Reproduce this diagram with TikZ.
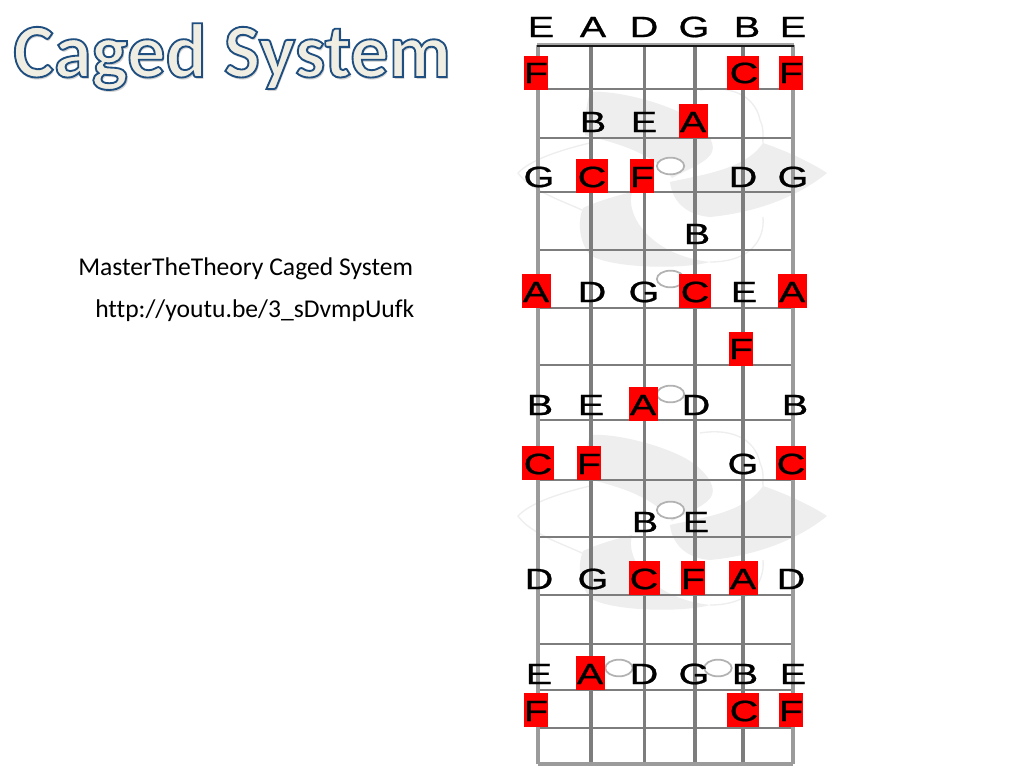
\documentclass[tikz,border=0pt]{standalone}
\usepackage{fontspec}
\setmainfont[Ligatures=NoCommon]{Carlito}
\newfontfamily\notefont{Liberation Sans}
\usetikzlibrary{shapes.geometric}
\definecolor{notered}{RGB}{255,0,0}
\definecolor{fretgray}{RGB}{125,125,125}
\definecolor{edgegray}{RGB}{155,155,155}
\definecolor{wmgray}{RGB}{238,238,238}
\tikzset{note/.style={inner sep=0pt,font=\notefont\fontsize{22}{22}\selectfont,text=black,anchor=center,xscale=1.35,transform shape},
         hit/.style={fill=notered,inner sep=0pt},
         fret/.style={draw=fretgray,line width=1.7pt},
         gstring/.style={draw=fretgray,line width=2.4pt},
         edgestring/.style={draw=edgegray,line width=2.6pt},
         opendot/.style={draw=black!30,line width=1.3pt,fill=white,ellipse,minimum width=20.5pt,minimum height=12.5pt,inner sep=0pt},
         info/.style={inner sep=0pt,font=\fontsize{19.2}{22}\selectfont,anchor=base west}
}
\newcommand{\outlined}[1]{\special{pdf:code q 2 Tr 1.4 w 0.12 0.31 0.5 RG 0.94 0.93 0.89 rg}#1\special{pdf:code 0 Tr Q}}
\newcommand{\notetxt}[1]{\special{pdf:code q 2 Tr 0.15 w 0 0 0 RG 0 0 0 rg}#1\special{pdf:code 0 Tr Q}}
\begin{document}
\begin{tikzpicture}[x=0.75pt,y=-0.75pt]
\useasboundingbox (0,0) rectangle (1024,768);
\fill[white] (0,0) rectangle (1024,768);

% watermarks
\foreach \dy in {0,343} {
\begin{scope}[yshift=-\dy*0.75pt]
\fill[wmgray] (590,92) .. controls (620,90) and (670,105) .. (690,118) .. controls (705,128) and (716,142) .. (712,152)
  .. controls (708,162) and (690,168) .. (672,178) .. controls (650,150) and (610,142) .. (585,135) .. controls (585,120) and (586,105) .. (590,92) -- cycle;
\fill[wmgray] (670,182) .. controls (700,175) and (745,170) .. (763,143) .. controls (790,152) and (815,165) .. (827,173)
  .. controls (800,195) and (760,212) .. (710,217) .. controls (685,215) and (672,200) .. (670,182) -- cycle;
\fill[wmgray] (583,208) .. controls (600,200) and (620,195) .. (632,192) .. controls (625,215) and (650,255) .. (710,262)
  .. controls (680,270) and (610,268) .. (590,255) .. controls (578,240) and (578,220) .. (583,208) -- cycle;
\draw[wmgray,line width=1pt] (590,143) .. controls (560,150) and (530,160) .. (518,173) .. controls (530,190) and (560,200) .. (582,210);
\draw[wmgray,line width=1pt] (700,90) .. controls (730,85) and (755,95) .. (760,120) .. controls (765,130) and (762,140) .. (763,143);
\draw[wmgray,line width=1pt] (763,217) .. controls (765,240) and (750,262) .. (710,262);
\end{scope}
}

% frets and strings
\foreach \fy in {89,138,192,250,308,365,420,480,537,595,644,690,728} {
  \draw[fret] (538,\fy) -- (793,\fy);
}
\foreach \sx in {591,644.5,695,743} {
  \draw[gstring] (\sx,45) -- (\sx,764);
}
\foreach \sx in {538,793} {
  \draw[edgestring] (\sx,45) -- (\sx,764);
}
\draw[edgestring] (538,764) -- (793,764);
\draw[black!35,line width=1.5pt] (537,43.5) -- (794,43.5);
\draw[black!90,line width=1.5pt] (537,46) -- (794,46);

% open dots
\foreach \nm/\dx/\dyy in {a/670.5/166,b/670.5/279,c/670.5/394,d/670.5/510,e/619/668,f/718/668} {
  \node[opendot] (dot\nm) at (\dx,\dyy) {};
}

% red notes
\foreach \nm/\nx/\ny/\nw/\nh in {aa/536/73/24/34,ab/743/73/32/34,ac/791/73/24/34,
   ba/693/121/29/34,
   ca/592/176/32/34,cb/642/176/24/34,
   da/536.5/291/29/34,db/695/291/32/34,dc/792/291/29/34,
   ea/741/349/24/34,
   fa/643/404/29/34,
   ga/538/463/32/34,gb/589/463/24/34,gc/791/463/30/34,
   ha/644.5/578/31/34,hb/693/578/24/34,hc/743/578/29/34,
   ia/590/673/29/34,
   ja/536/710/24/34,jb/743/710/32/34,jc/791/710/24/34} {
  \node[hit,minimum width=\nw*0.75pt,minimum height=\nh*0.75pt] (hit\nm) at (\nx,\ny) {};
}

% note names
\foreach \lab/\nx/\ny in {E/541/27,A/593/27,D/644/27,G/694/27,B/747/27,E/793/27,
   F/536/73,C/744/73,F/791/73,
   B/593/122,E/644/122,A/693/122,
   G/539/177,C/592/177,F/642/177,D/743/177,G/793/177,
   B/697/234,
   A/536/292,D/592/292,G/644/292,C/695/292,E/744/292,A/792/292,
   F/741/349,
   B/540/405,E/591/405,A/643/405,D/696/405,B/795/405,
   C/538/464,F/589/464,G/743/464,C/791/464,
   B/645/522,E/696/522,
   D/539/579,G/593/579,C/644/579,F/693/579,A/743/579,D/791/579,
   E/539/674,A/590/674,D/644/674,G/694/674,B/745/674,E/793/674,
   F/536/711,C/744/711,F/791/711} {
  \node[note] at (\nx,\ny) {\notetxt{\lab}};
}

% title
\node[inner sep=0pt,anchor=base west,font=\fontsize{57.4}{58}\selectfont\bfseries,text=black!40,opacity=.45] (titleshade) at (14.5,79) {Caged System};
\node[inner sep=0pt,anchor=base west,font=\fontsize{57.4}{58}\selectfont\bfseries] (title) at (13,77) {\outlined{Caged System}};

% info
\node[info] (channel) at (78,275) {MasterTheTheory Caged System};
\node[info] (link) at (95,317) {http://youtu.be/3\_sDvmpUufk};
\end{tikzpicture}
\end{document}
